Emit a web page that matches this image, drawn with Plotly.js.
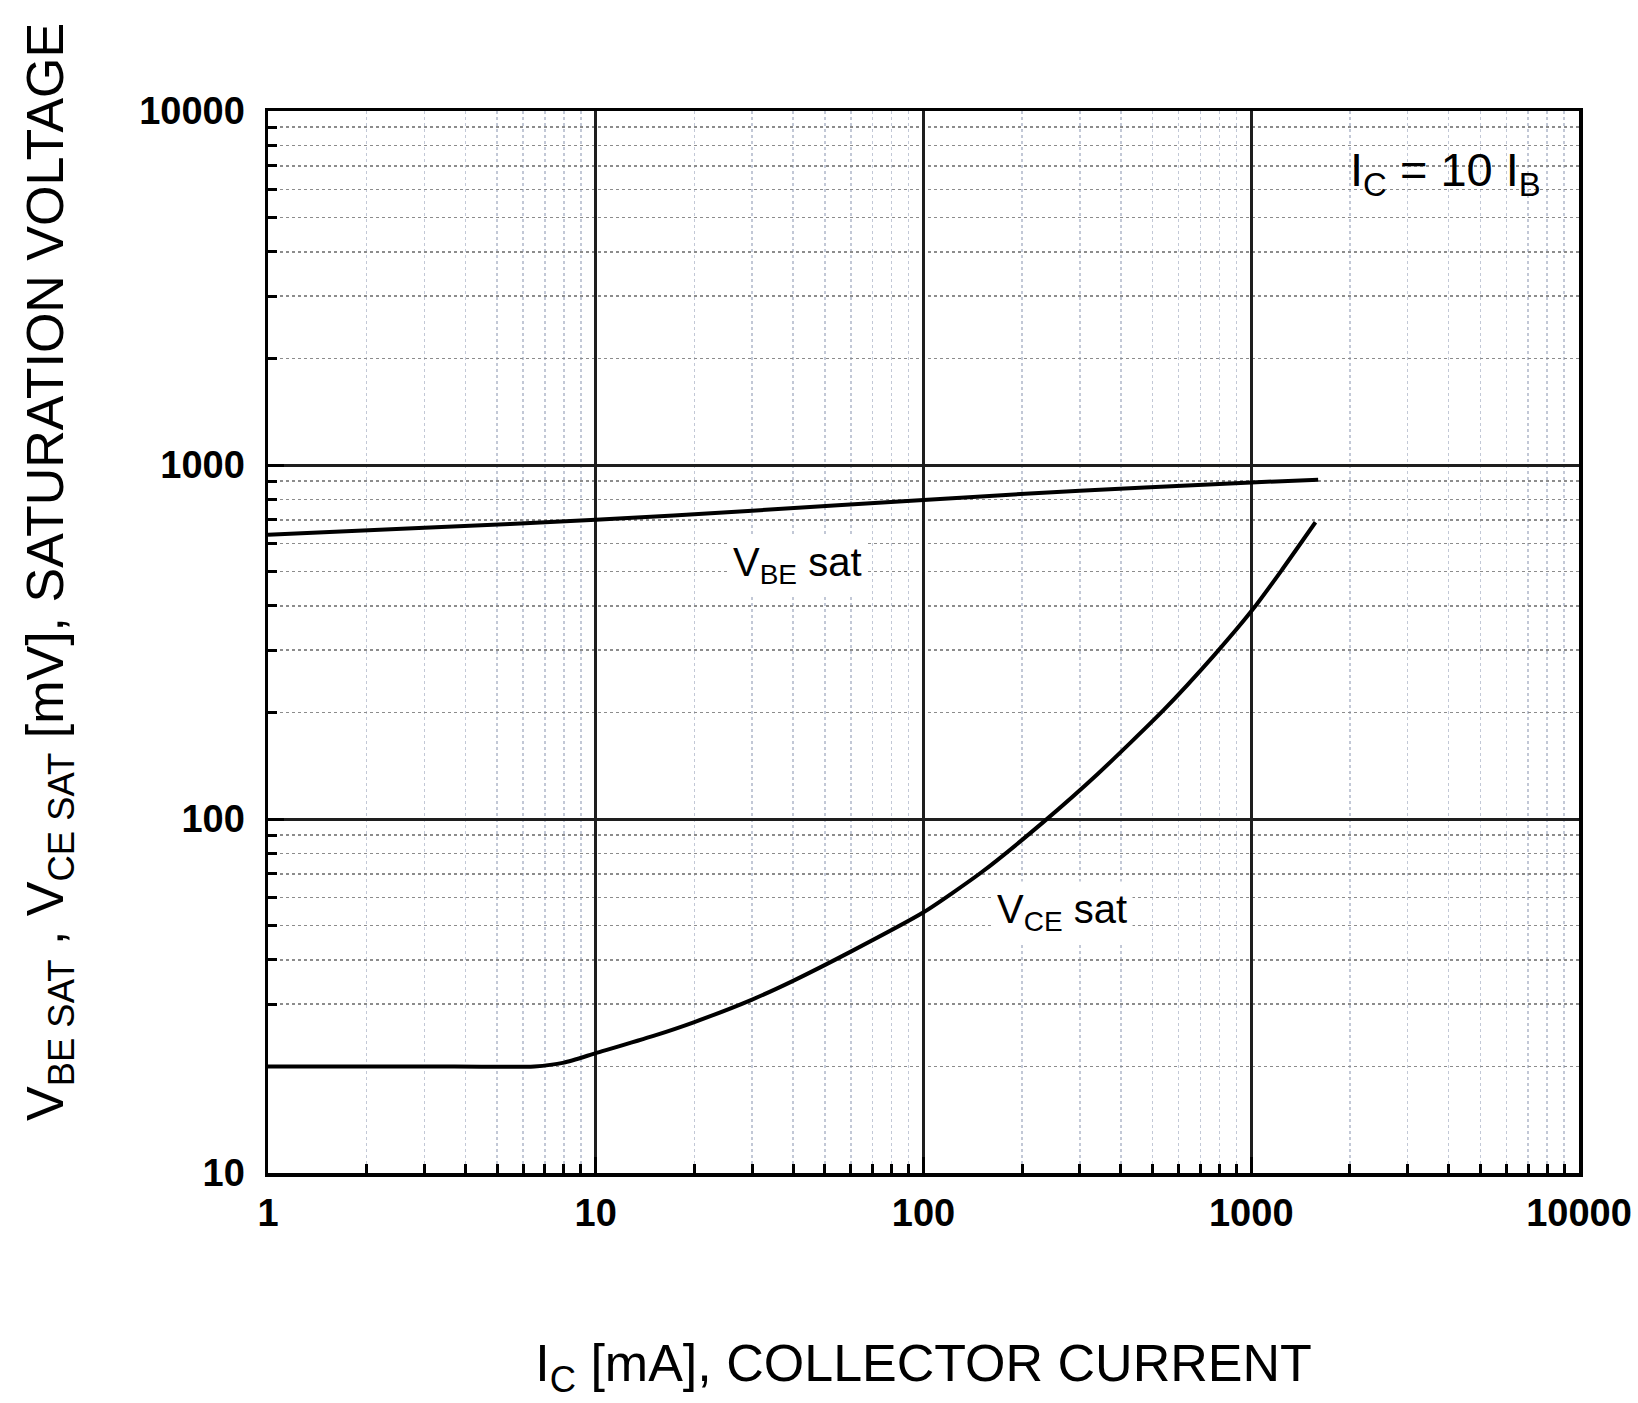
<!DOCTYPE html>
<html>
<head>
<meta charset="utf-8">
<script src="https://cdn.plot.ly/plotly-3.0.1.min.js"></script>
<style>
  html, body { margin: 0; padding: 0; background: #ffffff; }
  #chart { width: 1638px; height: 1403px; }
</style>
</head>
<body>
<div id="chart"></div>
<script>
// ---- data ----
const icVbe = [1, 3, 10, 30, 100, 300, 1000, 1600];            // mA
const vbeSat = [635, 665, 700, 743, 797, 846, 893, 908];       // mV

const icVce = [1, 3, 6.5, 8, 10, 15, 20, 30, 40, 60, 100, 150, 232, 340, 540, 770, 1000, 1230, 1570]; // mA
const vceSat = [20, 20, 20, 20.5, 21.8, 24.4, 26.7, 30.9, 34.9, 42.2, 54.5, 70.6, 98, 134, 203, 290, 386, 500, 689]; // mV

const majorTicks = [1, 10, 100, 1000, 10000];
const majorTickText = ["1", "10", "100", "1000", "10000"];
const minorDigits = [2, 3, 4, 5, 6, 7, 8, 9];
const xDecades = [1, 10, 100, 1000];
const yDecades = [10, 100, 1000];

const minorX = [];
xDecades.forEach(d => minorDigits.forEach(m => minorX.push(m * d)));
const minorY = [];
yDecades.forEach(d => minorDigits.forEach(m => minorY.push(m * d)));

const FONT = "Liberation Sans, Arial, Helvetica, sans-serif";

const traces = [
  {
    x: icVbe, y: vbeSat, type: "scatter", mode: "lines", name: "VBE sat",
    line: { color: "#000000", width: 4, shape: "spline", smoothing: 1 },
    hoverinfo: "x+y"
  },
  {
    x: icVce, y: vceSat, type: "scatter", mode: "lines", name: "VCE sat",
    line: { color: "#000000", width: 4, shape: "spline", smoothing: 0.6 },
    hoverinfo: "x+y"
  }
];

const axisCommon = {
  type: "log",
  tickmode: "array",
  showline: true,
  linecolor: "#000000",
  linewidth: 3.5,
  mirror: true,
  ticks: "inside",
  ticklen: 16,
  tickwidth: 3,
  tickcolor: "#000000",
  showgrid: true,
  gridcolor: "#1e1e1e",
  gridwidth: 3,
  zeroline: false,
  tickfont: { family: FONT, size: 38, color: "#000000", weight: "bold" }
};

const layout = {
  width: 1638,
  height: 1403,
  paper_bgcolor: "#ffffff",
  plot_bgcolor: "#ffffff",
  showlegend: false,
  margin: { l: 268, r: 59, t: 111, b: 230 },
  font: { family: FONT, color: "#000000" },
  xaxis: Object.assign({}, axisCommon, {
    range: [0, 4],
    tickvals: majorTicks,
    ticktext: majorTickText,
    ticklabelstandoff: 4,
    minor: {
      tickmode: "array",
      tickvals: minorX,
      ticks: "inside",
      ticklen: 9,
      tickwidth: 3,
      tickcolor: "#000000",
      showgrid: true,
      gridcolor: "#c2c8d6",
      gridwidth: 1.5,
      griddash: "dot"
    },
    title: {
      text: "I<sub>C</sub> [mA], COLLECTOR CURRENT",
      font: { family: FONT, size: 52, color: "#000000" },
      standoff: 112
    }
  }),
  yaxis: Object.assign({}, axisCommon, {
    range: [1, 4],
    tickvals: majorTicks,
    ticktext: majorTickText,
    ticklabelstandoff: 12,
    minor: {
      tickmode: "array",
      tickvals: minorY,
      ticks: "inside",
      ticklen: 9,
      tickwidth: 3,
      tickcolor: "#000000",
      showgrid: true,
      gridcolor: "#8c8c8c",
      gridwidth: 1.5,
      griddash: "dot"
    }
  }),
  shapes: [
    {
      type: "rect", xref: "paper", yref: "paper",
      x0: 0.802, x1: 0.998, y0: 0.8955, y1: 0.998,
      fillcolor: "#ffffff", line: { width: 0 }, layer: "between"
    }
  ],
  annotations: [
    {
      text: "V<sub>BE SAT</sub> , V<sub>CE SAT</sub> [mV], SATURATION VOLTAGE",
      xref: "paper", yref: "paper", x: -0.167, y: 0.566,
      xanchor: "center", yanchor: "middle", textangle: -90, showarrow: false,
      font: { family: FONT, size: 52, color: "#000000" }
    },
    {
      text: "I<sub>C</sub> = 10 I<sub>B</sub>",
      xref: "paper", yref: "paper", x: 0.8985, y: 0.9416,
      xanchor: "center", yanchor: "middle", showarrow: false,
      font: { family: FONT, size: 47, color: "#000000" }
    },
    {
      text: "V<sub>BE</sub> sat",
      xref: "paper", yref: "paper", x: 0.404, y: 0.5725,
      xanchor: "center", yanchor: "middle", showarrow: false,
      bgcolor: "#ffffff", borderpad: 5,
      font: { family: FONT, size: 40, color: "#000000" }
    },
    {
      text: "V<sub>CE</sub> sat",
      xref: "paper", yref: "paper", x: 0.6055, y: 0.2458,
      xanchor: "center", yanchor: "middle", showarrow: false,
      bgcolor: "#ffffff", borderpad: 5,
      font: { family: FONT, size: 40, color: "#000000" }
    }
  ]
};

Plotly.newPlot("chart", traces, layout, { displayModeBar: false, staticPlot: true });
</script>
</body>
</html>
